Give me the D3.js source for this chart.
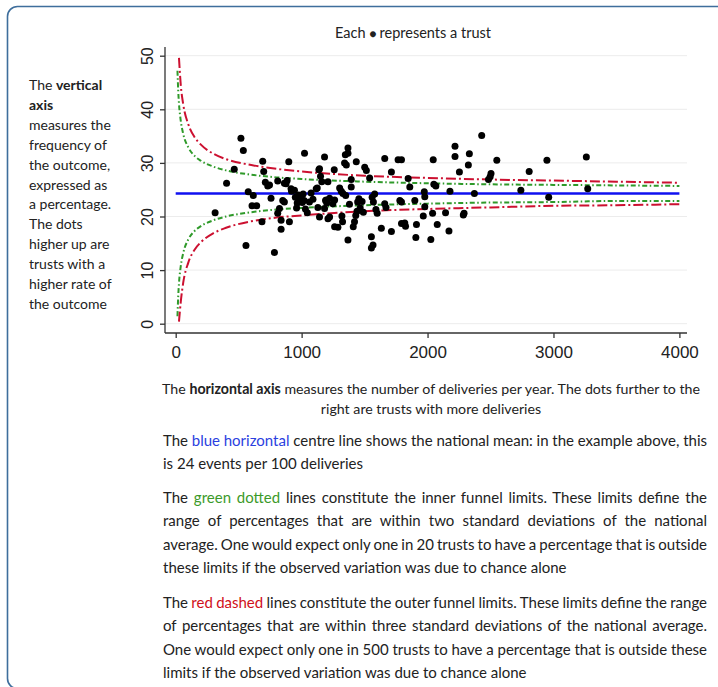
<!DOCTYPE html>
<html>
<head>
<meta charset="utf-8">
<script src="https://cdn.jsdelivr.net/npm/d3@7"></script>
<style>
  html, body { margin: 0; padding: 0; background: #ffffff; }
  svg { display: block; }
</style>
</head>
<body>
<svg id="chart" width="718" height="687"></svg>
<script>
// Axis ticks
const xTicks = [0, 1000, 2000, 3000, 4000];
const yTicks = [0, 10, 20, 30, 40, 50];

// National mean (events per 100 deliveries)
const nationalMean = 24.3;

// Inner (2 SD) funnel limits by number of deliveries
const innerN     = [14, 20, 26, 40, 60, 100, 150, 200, 300, 400, 600, 800, 1000, 1500, 2000, 2500, 3000, 3500, 4000];
const innerUpper = [47.2, 43.5, 41.1, 37.9, 35.4, 32.9, 31.3, 30.4, 29.3, 28.6, 27.8, 27.3, 27.0, 26.5, 26.2, 26.0, 25.9, 25.8, 25.7];
const innerLower = [1.4, 5.1, 7.5, 10.7, 13.2, 15.7, 17.3, 18.2, 19.3, 20.0, 20.8, 21.3, 21.6, 22.1, 22.4, 22.6, 22.7, 22.9, 22.9];

// Outer (3 SD) funnel limits by number of deliveries
const outerN     = [26, 40, 60, 100, 150, 200, 300, 400, 600, 800, 1000, 1500, 2000, 2500, 3000, 3500, 4000];
const outerUpper = [49.6, 44.6, 40.9, 37.2, 34.8, 33.4, 31.7, 30.7, 29.6, 28.9, 28.4, 27.6, 27.2, 26.9, 26.7, 26.5, 26.3];
const outerLower = [0.4, 4.0, 7.7, 11.4, 13.8, 15.2, 16.9, 17.9, 19.1, 19.8, 20.2, 21.0, 21.4, 21.7, 22.0, 22.1, 22.3];

// Trusts: deliveries per year and outcome rate (%)
const deliveries = [
  313, 404, 465, 518, 537, 558, 576, 606, 616, 643, 685, 691, 699, 712,
  731, 745, 757, 784, 810, 810, 824, 837, 837, 850, 863, 863, 876, 885, 898, 903, 916,
  920, 943, 950, 960, 965, 975, 985, 995, 1005, 1012, 1020, 1023, 1030, 1045, 1062, 1075, 1090,
  1116, 1124, 1129, 1137, 1142, 1142, 1150, 1160, 1182, 1182, 1190, 1195, 1200, 1209, 1209, 1222,
  1222, 1248, 1259, 1262, 1262, 1288, 1302, 1315, 1328,
  1320, 1325, 1341, 1347, 1350, 1355, 1368, 1368, 1368, 1380, 1394, 1394, 1410, 1420, 1430, 1434,
  1440, 1445, 1455, 1465, 1480, 1490, 1501, 1514,
  1540, 1554, 1554, 1567, 1560, 1570, 1580, 1590, 1600, 1633, 1660, 1660, 1670, 1713, 1713,
  1766, 1780, 1793, 1793, 1793, 1819, 1825, 1846, 1859, 1899, 1907, 1912, 1966, 1974, 1978, 1978,
  2026, 2040, 2045, 2050, 2066, 2077,
  2143, 2170, 2178, 2218, 2218, 2253, 2284, 2290, 2324, 2332, 2372, 2430, 2484, 2497, 2504, 2550,
  2741, 2807, 2948, 2962, 3261, 3272
];
const rates = [
  20.7, 26.2, 28.8, 34.6, 32.3, 14.6, 24.6, 22.0, 23.9, 22.0, 19.0, 30.3, 28.4, 26.4,
  25.7, 25.9, 23.4, 13.3, 20.6, 26.6, 21.5, 19.3, 17.6, 23.0, 22.7, 26.2, 26.1, 26.7, 30.2, 19.0, 25.2,
  24.7, 24.9, 23.6, 21.6, 22.5, 24.0, 22.9, 23.8, 22.6, 24.2, 23.0, 31.8, 21.4, 20.7, 22.7, 24.4, 23.2,
  25.2, 25.3, 21.7, 28.7, 28.9, 19.9, 27.5, 26.5, 31.1, 21.5, 23.0, 23.1, 22.5, 26.5, 19.6, 19.9,
  23.4, 22.4, 28.7, 18.1, 23.1, 18.0, 25.3, 24.7, 24.3,
  20.1, 19.0, 30.0, 31.5, 23.9, 29.6, 32.8, 31.8, 15.6, 22.3, 26.9, 25.5, 18.1, 19.0, 20.2, 30.2,
  21.0, 22.7, 23.3, 21.6, 22.8, 20.8, 29.2, 28.6,
  27.2, 16.2, 14.1, 14.7, 23.6, 22.7, 24.2, 21.3, 20.6, 17.8, 30.8, 22.4, 21.7, 28.3, 17.2,
  30.6, 23.0, 30.6, 18.7, 22.7, 18.8, 18.2, 27.1, 25.5, 23.0, 16.1, 18.5, 20.1, 24.6, 23.7, 21.8,
  15.7, 20.6, 30.6, 26.0, 25.7, 18.5,
  20.7, 17.3, 24.7, 33.1, 31.2, 28.3, 20.3, 20.6, 29.6, 31.7, 24.3, 35.1, 26.9, 27.4, 28.0, 30.5,
  24.9, 28.4, 30.5, 23.6, 31.1, 25.2
];

// Explanatory text blocks
const sideLines = [
  [["The ", false], ["vertical", true]],
  [["axis", true]],
  [["measures the", false]],
  [["frequency of", false]],
  [["the outcome,", false]],
  [["expressed as", false]],
  [["a percentage.", false]],
  [["The dots", false]],
  [["higher up are", false]],
  [["trusts with a", false]],
  [["higher rate of", false]],
  [["the outcome", false]]
];
const captionLines = [
  [["The ", false], ["horizontal axis", true], [" measures the number of deliveries per year. The dots further to the", false]],
  [["right are trusts with more deliveries", false]]
];
const paragraphs = [
  { lines: [
      { parts: [["The ", "#222"], ["blue horizontal", "#2b3fe0"], [" centre line shows the national mean: in the example above, this", "#222"]], justify: true },
      { parts: [["is 24 events per 100 deliveries", "#222"]], justify: false }
    ], y: 446 },
  { lines: [
      { parts: [["The ", "#222"], ["green dotted", "#3c9a2a"], [" lines constitute the inner funnel limits. These limits define the", "#222"]], justify: true },
      { parts: [["range of percentages that are within two standard deviations of the national", "#222"]], justify: true },
      { parts: [["average. One would expect only one in 20 trusts to have a percentage that is outside", "#222"]], justify: true },
      { parts: [["these limits if the observed variation was due to chance alone", "#222"]], justify: false }
    ], y: 503 },
  { lines: [
      { parts: [["The ", "#222"], ["red dashed", "#d0101a"], [" lines constitute the outer funnel limits. These limits define the range", "#222"]], justify: true },
      { parts: [["of percentages that are within three standard deviations of the national average.", "#222"]], justify: true },
      { parts: [["One would expect only one in 500 trusts to have a percentage that is outside these", "#222"]], justify: true },
      { parts: [["limits if the observed variation was due to chance alone", "#222"]], justify: false }
    ], y: 608 }
];

const svg = d3.select("#chart");
const textFont = "Lato, 'Open Sans', sans-serif";
const axisFont = "'Liberation Sans', Arial, sans-serif";

// Rounded frame
svg.append("rect")
  .attr("x", 7.5).attr("y", 6.5)
  .attr("width", 730).attr("height", 682)
  .attr("rx", 10).attr("ry", 10)
  .attr("fill", "none")
  .attr("stroke", "#3e6e9c")
  .attr("stroke-width", 1.6);

// Plot region and scales
const region = { left: 165, right: 687, top: 47, bottom: 333 };
const x = d3.scaleLinear().domain([0, 4000]).range([175.7, 679.4]);
const y = d3.scaleLinear().domain([0, 50]).range([323.7, 55.7]);

// Horizontal grid lines
svg.append("g").selectAll("line").data(yTicks).join("line")
  .attr("x1", region.left).attr("x2", region.right)
  .attr("y1", d => y(d)).attr("y2", d => y(d))
  .attr("stroke", "#ececec").attr("stroke-width", 1);

// Y axis
const yAxis = svg.append("g")
  .attr("transform", `translate(${region.left},0)`)
  .call(d3.axisLeft(y).tickValues(yTicks).tickSize(5).tickPadding(6).tickFormat(d3.format("d")));
yAxis.select(".domain").attr("d", `M0,${region.top}V${region.bottom}`).attr("stroke", "#333").attr("stroke-width", 1.3);
yAxis.selectAll(".tick line").attr("stroke", "#333").attr("stroke-width", 1.3);
yAxis.selectAll(".tick text")
  .attr("font-family", axisFont).attr("font-size", 16).attr("fill", "#222")
  .attr("text-anchor", "middle")
  .attr("x", null).attr("dy", null)
  .attr("transform", "translate(-12,0) rotate(-90)");

// X axis
const xAxis = svg.append("g")
  .attr("transform", `translate(0,${region.bottom})`)
  .call(d3.axisBottom(x).tickValues(xTicks).tickSize(5).tickPadding(8).tickFormat(d3.format("d")));
xAxis.select(".domain").attr("d", `M${region.left},0H${region.right}`).attr("stroke", "#333").attr("stroke-width", 1.3);
xAxis.selectAll(".tick line").attr("stroke", "#333").attr("stroke-width", 1.3);
xAxis.selectAll(".tick text")
  .attr("font-family", axisFont).attr("font-size", 17).attr("fill", "#222");

// Funnel limit lines
const limitLine = d3.line().x(d => x(d[0])).y(d => y(d[1])).curve(d3.curveMonotoneX);
const zipLimit = (ns, vs) => ns.map((n, i) => [n, vs[i]]);

const lines = svg.append("g").attr("fill", "none");
[innerUpper, innerLower].forEach(vs => {
  lines.append("path")
    .attr("d", limitLine(zipLimit(innerN, vs)))
    .attr("stroke", "#2f9a2a").attr("stroke-width", 2)
    .attr("stroke-dasharray", "5,2.5,1.5,2.5");
});
[outerUpper, outerLower].forEach(vs => {
  lines.append("path")
    .attr("d", limitLine(zipLimit(outerN, vs)))
    .attr("stroke", "#cc1030").attr("stroke-width", 2)
    .attr("stroke-dasharray", "10,3,2,3");
});

// National mean line
lines.append("path")
  .attr("d", d3.line()([[x(0), y(nationalMean)], [x(4000), y(nationalMean)]]))
  .attr("stroke", "#1010f0").attr("stroke-width", 2.6);

// Trust points
svg.append("g").selectAll("circle").data(deliveries).join("circle")
  .attr("cx", d => x(d))
  .attr("cy", (d, i) => y(rates[i]))
  .attr("r", 3.5)
  .attr("fill", "#000");

// Title
const title = svg.append("text")
  .attr("x", 413).attr("y", 38)
  .attr("text-anchor", "middle")
  .attr("font-family", textFont).attr("font-size", 14.5).attr("fill", "#222");
title.append("tspan").text("Each ");
title.append("tspan").attr("font-size", 12).text(" \u25CF ");
title.append("tspan").text(" represents a trust");

// Side text on the vertical axis
const side = svg.append("g")
  .attr("font-family", textFont).attr("font-size", 14).attr("fill", "#222");
sideLines.forEach((parts, i) => {
  const t = side.append("text").attr("x", 29).attr("y", 90 + i * 19.9);
  parts.forEach(([s, b]) => t.append("tspan").attr("font-weight", b ? 700 : 400).text(s));
});

// Caption under the horizontal axis
const cap = svg.append("g")
  .attr("font-family", textFont).attr("font-size", 14.2).attr("fill", "#222")
  .attr("text-anchor", "middle");
captionLines.forEach((parts, i) => {
  const t = cap.append("text").attr("x", 431).attr("y", 394 + i * 20);
  parts.forEach(([s, b]) => t.append("tspan").attr("font-weight", b ? 700 : 400).text(s));
});

// Explanatory paragraphs, justified between the margins
const body = svg.append("g")
  .attr("font-family", textFont).attr("font-size", 15);
const leftX = 163, rightX = 707;
paragraphs.forEach(p => {
  p.lines.forEach((ln, i) => {
    const t = body.append("text").attr("x", leftX).attr("y", p.y + i * 23.4);
    ln.parts.forEach(([s, c]) => t.append("tspan").attr("fill", c).text(s));
    if (ln.justify) {
      const natural = t.node().getComputedTextLength();
      const full = ln.parts.map(d => d[0]).join("");
      const spaces = (full.match(/ /g) || []).length;
      if (spaces > 0) t.attr("word-spacing", (rightX - leftX - natural) / spaces);
    }
  });
});
</script>
</body>
</html>
